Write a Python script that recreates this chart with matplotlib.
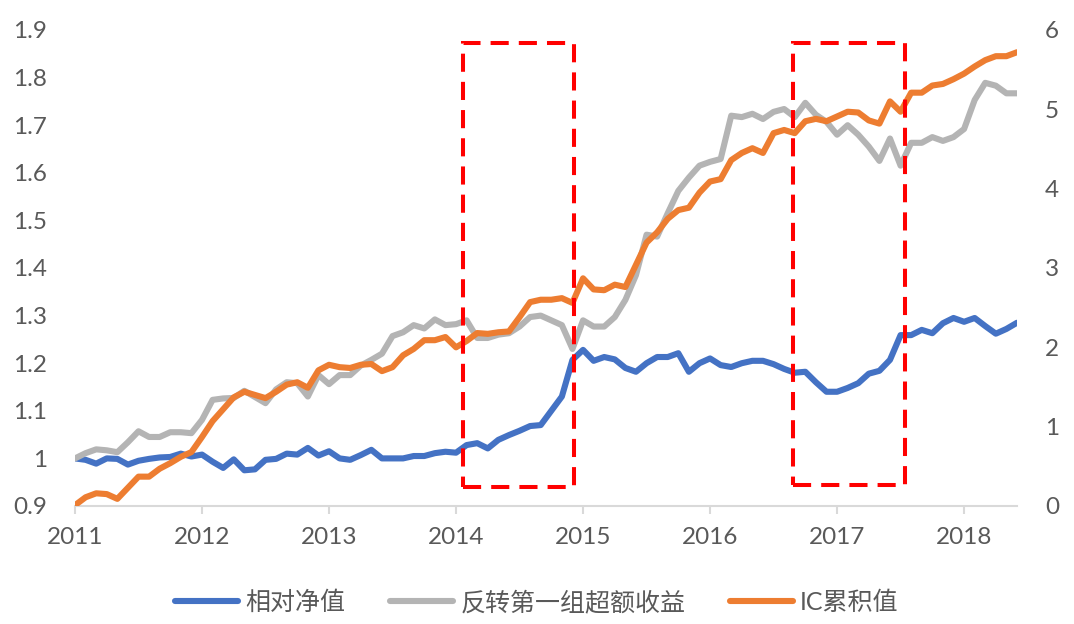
import matplotlib.pyplot as plt
from matplotlib.patches import Rectangle
import numpy as np


# monthly points, Jan 2011 .. Jun 2018
YEAR_LABELS = ["2011", "2012", "2013", "2014", "2015", "2016", "2017", "2018"]
YEAR_TICKS = [0, 12, 24, 36, 48, 60, 72, 84]

# 相对净值 (left axis)
relative_nav = [
    1.000, 0.997, 0.989, 1.000, 0.999, 0.987, 0.995, 0.999, 1.002, 1.003, 1.010, 1.004,
    1.008, 0.993, 0.980, 0.998, 0.975, 0.977, 0.997, 0.999, 1.010, 1.008, 1.022, 1.006,
    1.015, 1.000, 0.997, 1.007, 1.018, 1.000, 1.000, 1.000, 1.005, 1.005, 1.011, 1.014,
    1.012, 1.028, 1.032, 1.021, 1.039, 1.049, 1.058, 1.068, 1.070, 1.100, 1.130, 1.207,
    1.228, 1.205, 1.213, 1.208, 1.190, 1.182, 1.200, 1.213, 1.213, 1.221, 1.182, 1.200,
    1.210, 1.196, 1.192, 1.200, 1.205, 1.205, 1.198, 1.188, 1.180, 1.182, 1.160, 1.140,
    1.140, 1.148, 1.158, 1.178, 1.184, 1.207, 1.259, 1.259, 1.270, 1.263, 1.284, 1.295,
    1.287, 1.295, 1.278, 1.262, 1.272, 1.285,
]

# 反转第一组超额收益 (left axis)
reversal_excess = [
    1.000, 1.011, 1.019, 1.017, 1.013, 1.034, 1.057, 1.045, 1.045, 1.055, 1.055, 1.053,
    1.081, 1.123, 1.126, 1.127, 1.142, 1.129, 1.116, 1.145, 1.160, 1.158, 1.130, 1.175,
    1.156, 1.175, 1.175, 1.195, 1.207, 1.220, 1.257, 1.265, 1.280, 1.273, 1.292, 1.280,
    1.282, 1.290, 1.253, 1.253, 1.260, 1.263, 1.277, 1.297, 1.300, 1.290, 1.280, 1.230,
    1.290, 1.277, 1.277, 1.297, 1.333, 1.385, 1.470, 1.466, 1.515, 1.562, 1.590, 1.615,
    1.623, 1.629, 1.720, 1.717, 1.724, 1.713, 1.728, 1.734, 1.717, 1.747, 1.722, 1.707,
    1.680, 1.700, 1.680, 1.655, 1.625, 1.672, 1.615, 1.663, 1.663, 1.675, 1.667, 1.675,
    1.692, 1.753, 1.789, 1.783, 1.767, 1.767,
]

# IC累积值 (right axis)
ic_cumulative = [
    0.01, 0.11, 0.16, 0.15, 0.09, 0.23, 0.37, 0.37, 0.47, 0.54, 0.62, 0.68,
    0.87, 1.07, 1.22, 1.37, 1.44, 1.40, 1.36, 1.44, 1.53, 1.56, 1.49, 1.71,
    1.78, 1.75, 1.74, 1.78, 1.79, 1.70, 1.75, 1.90, 1.98, 2.09, 2.09, 2.13,
    2.00, 2.08, 2.18, 2.17, 2.19, 2.20, 2.38, 2.57, 2.60, 2.60, 2.62, 2.56,
    2.87, 2.73, 2.72, 2.79, 2.76, 3.04, 3.32, 3.45, 3.62, 3.73, 3.76, 3.95,
    4.09, 4.12, 4.36, 4.45, 4.51, 4.45, 4.70, 4.74, 4.70, 4.85, 4.88, 4.85,
    4.91, 4.97, 4.96, 4.86, 4.82, 5.10, 4.97, 5.21, 5.21, 5.30, 5.32, 5.38,
    5.45, 5.54, 5.62, 5.67, 5.67, 5.72,
]

# highlighted periods: (x start, x end) in months, (y bottom, y top) on left axis
BOX_X = [(36.7, 47.1), (67.8, 78.4)]
BOX_Y = [(0.940, 1.873), (0.945, 1.873)]

BLUE = "#4472C4"
GREY = "#B4B4B4"
ORANGE = "#ED7D31"
TEXT = "#595959"

plt.rcParams["font.family"] = ["Lato", "Noto Sans CJK SC", "DejaVu Sans"]


def main() -> None:
    x = np.arange(len(relative_nav))

    fig = plt.figure(figsize=(10.74, 6.24), dpi=100)
    ax = fig.add_axes([75 / 1074, 1 - 506 / 624, (1017 - 75) / 1074, 476 / 624])
    ax2 = ax.twinx()

    line_kw = dict(lw=4.4, solid_capstyle="round", solid_joinstyle="round")
    h1, = ax.plot(x, relative_nav, color=BLUE, label="相对净值", **line_kw)
    h2, = ax.plot(x, reversal_excess, color=GREY, label="反转第一组超额收益", **line_kw)
    h3, = ax2.plot(x, ic_cumulative, color=ORANGE, label="IC累积值", **line_kw)

    ax.set_xlim(0, len(relative_nav) - 1)
    ax.set_ylim(0.9, 1.9)
    ax2.set_ylim(0, 6)

    ax.set_yticks(np.arange(0.9, 1.91, 0.1))
    ax.set_yticklabels(["0.9", "1", "1.1", "1.2", "1.3", "1.4", "1.5", "1.6", "1.7", "1.8", "1.9"])
    ax2.set_yticks(range(0, 7))
    ax.set_xticks(YEAR_TICKS)
    ax.set_xticklabels(YEAR_LABELS)

    for a in (ax, ax2):
        for side in ("top", "left", "right"):
            a.spines[side].set_visible(False)
        a.spines["bottom"].set_color("#D9D9D9")
        a.spines["bottom"].set_linewidth(1.5)
    ax2.spines["bottom"].set_visible(False)

    ax.tick_params(axis="x", colors="#D9D9D9", width=1.5, length=6, pad=9,
                   labelcolor=TEXT, labelsize=17.5)
    ax.tick_params(axis="y", length=0, pad=20, labelcolor=TEXT, labelsize=17.5)
    ax2.tick_params(axis="y", length=0, pad=20, labelcolor=TEXT, labelsize=17.5)

    for (x0, x1), (y0, y1) in zip(BOX_X, BOX_Y):
        rect = Rectangle((x0, y0), x1 - x0, y1 - y0, transform=ax.transData,
                         fill=False, edgecolor="#FF0000", lw=2.9,
                         linestyle=(0, (4.5, 2.5)), zorder=5, clip_on=False)
        ax2.add_patch(rect)

    leg = fig.legend(handles=[h1, h2, h3], loc="center", ncol=3,
                     bbox_to_anchor=(0.5, 1 - 602 / 624), frameon=False,
                     fontsize=18, handlelength=2.5, handletextpad=0.3,
                     columnspacing=1.8)
    for t in leg.get_texts():
        t.set_color(TEXT)

    fig.savefig("out.png", dpi=100)
    plt.close(fig)


if __name__ == "__main__":
    main()
